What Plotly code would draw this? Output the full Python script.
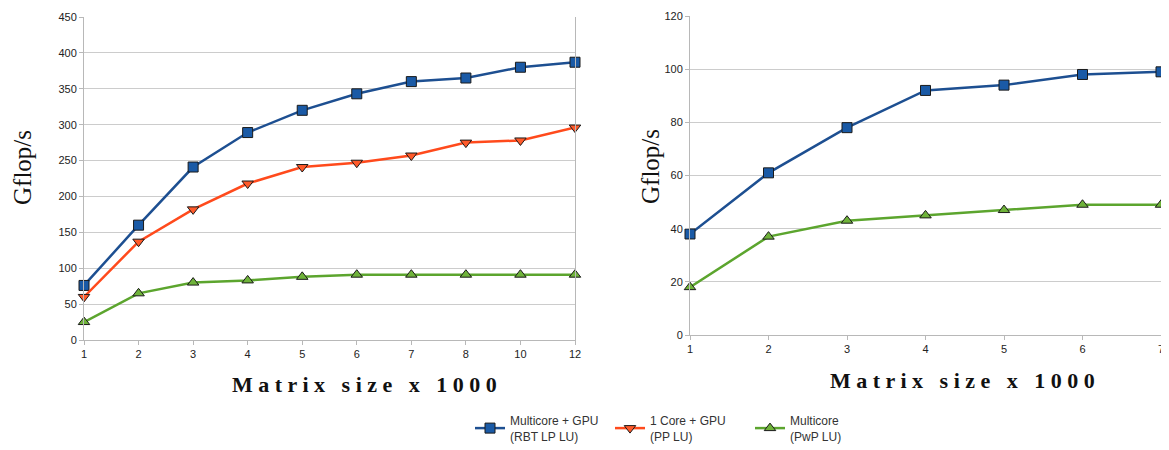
import plotly.graph_objects as go

# Left chart data
sizes_left = ["1", "2", "3", "4", "5", "6", "7", "8", "10", "12"]
multicore_gpu_left = [76, 160, 241, 289, 320, 343, 360, 365, 380, 387]
one_core_gpu_left = [60, 137, 182, 218, 241, 247, 257, 275, 278, 296]
multicore_left = [25, 65, 80, 83, 88, 91, 91, 91, 91, 91]

# Right chart data
sizes_right = ["1", "2", "3", "4", "5", "6", "7"]
multicore_gpu_right = [38, 61, 78, 92, 94, 98, 99]
multicore_right = [18, 37, 43, 45, 47, 49, 49]

names = ["Multicore + GPU<br>(RBT LP LU)", "1 Core + GPU<br>(PP LU)", "Multicore<br>(PwP LU)"]

BLUE_LINE = "#1d4f91"
BLUE_MK = "#1a5aa6"
RED_LINE = "#ff4a1c"
RED_MK = "#ff5a2a"
GREEN_LINE = "#5ca52e"
GREEN_MK = "#6fb33a"

# page has an 8px body margin; figure is sized to fit the 1169x450 window
W, H = 1161, 442
OFF = 8

def px(xp):
    return (xp - OFF) / W

def py(yp):
    return 1 - (yp - OFF) / H

fig = go.Figure()

def add(x, y, name, lc, mc, sym, size, xa, ya, show):
    fig.add_trace(go.Scatter(
        x=x, y=y, name=name, mode="lines+markers",
        line=dict(color=lc, width=2.5),
        marker=dict(symbol=sym, size=size, color=mc, line=dict(color="#1a1a1a", width=1)),
        xaxis=xa, yaxis=ya, showlegend=show, legendgroup=name,
        cliponaxis=False,
    ))

add(sizes_left, multicore_gpu_left, names[0], BLUE_LINE, BLUE_MK, "square", 10, "x", "y", True)
add(sizes_left, one_core_gpu_left, names[1], RED_LINE, RED_MK, "triangle-down", 10, "x", "y", True)
add(sizes_left, multicore_left, names[2], GREEN_LINE, GREEN_MK, "triangle-up", 10, "x", "y", True)
add(sizes_right, multicore_gpu_right, names[0], BLUE_LINE, BLUE_MK, "square", 10, "x2", "y2", False)
add(sizes_right, multicore_right, names[2], GREEN_LINE, GREEN_MK, "triangle-up", 10, "x2", "y2", False)

axis_common = dict(
    showline=True, linecolor="#b8b8b8", linewidth=1,
    ticks="outside", ticklen=4, tickcolor="#b8b8b8",
    tickfont=dict(family="Liberation Sans, Arial", size=11, color="#222"),
    zeroline=False, automargin=False,
)

fig.update_layout(
    width=W, height=H,
    margin=dict(l=0, r=0, t=0, b=0, autoexpand=False),
    paper_bgcolor="white", plot_bgcolor="white",
    xaxis=dict(domain=[px(84), px(575)], type="category", range=[0, 9],
               showgrid=False, anchor="y", **axis_common),
    yaxis=dict(domain=[py(340), py(17)], range=[0, 450], dtick=50, mirror=True,
               showgrid=True, gridcolor="#cccccc", gridwidth=1, anchor="x", **axis_common),
    xaxis2=dict(domain=[px(690), px(1161)], type="category", range=[0, 6],
                showgrid=False, anchor="y2", **axis_common),
    yaxis2=dict(domain=[py(335), py(16)], range=[0, 120], dtick=20, mirror=True,
                showgrid=True, gridcolor="#cccccc", gridwidth=1, anchor="x2", **axis_common),
    legend=dict(orientation="h", x=px(470), y=py(406), xanchor="left", yanchor="top",
                font=dict(family="Liberation Sans, Arial", size=12, color="#333"),
                itemwidth=30, entrywidth=95, tracegroupgap=0, bgcolor="rgba(0,0,0,0)"),
)

xtitle = "M a t r i x &nbsp; s i z e &nbsp; x &nbsp; 1 0 0 0"
for xc, yc in [(364, 384), (962, 380)]:
    fig.add_annotation(text="<b>" + xtitle + "</b>", x=px(xc), y=py(yc),
                       xref="paper", yref="paper", showarrow=False,
                       xanchor="center", yanchor="middle",
                       font=dict(family="Liberation Serif, DejaVu Serif", size=22, color="#111"))
for xc, yc in [(22, 168), (650, 166)]:
    fig.add_annotation(text="Gflop/s", x=px(xc), y=py(yc), textangle=-90,
                       xref="paper", yref="paper", showarrow=False,
                       xanchor="center", yanchor="middle",
                       font=dict(family="Liberation Serif, DejaVu Serif", size=25, color="#111"))

fig.write_html("out.html")
